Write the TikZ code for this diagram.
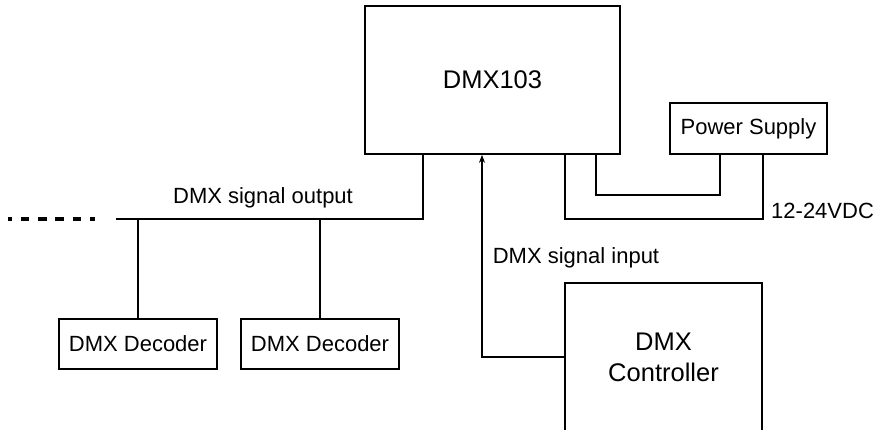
\documentclass[tikz,border=0pt]{standalone}
\usepackage{fontspec}
\setmainfont{Liberation Sans}
\usetikzlibrary{arrows.meta,calc}
\begin{document}
\begin{tikzpicture}[x=1pt,y=-1pt,
  wire/.style={line width=1.7pt,black},
  boxn/.style={draw,line width=1.7pt,inner sep=0pt,align=center},
  big/.style={font=\fontsize{25.5}{32}\selectfont},
  small/.style={font=\fontsize{22}{26}\selectfont},
  lbl/.style={inner sep=0pt,font=\fontsize{22}{26}\selectfont}]
\useasboundingbox (0,0) rectangle (880,429);
\clip (0,0) rectangle (880,429);
% boxes
\node[boxn,big,minimum width=255pt,minimum height=148pt] (dmx) at (492.5,80) {DMX103};
\node[boxn,small,minimum width=157pt,minimum height=51pt] (ps) at (748.5,128.5) {Power Supply};
\node[boxn,big,minimum width=197pt,minimum height=148pt] (ctrl) at (663.5,357) {DMX\\[-1pt]Controller};
\node[boxn,small,minimum width=158pt,minimum height=50pt] (dec1) at (138,344) {DMX Decoder};
\node[boxn,small,minimum width=158pt,minimum height=50pt] (dec2) at (320,344) {DMX Decoder};
% labels
\node[lbl] (lout) at (263,198) {DMX signal output};
\node[lbl] (lin) at (576,258) {DMX signal input};
\node[lbl,anchor=west] (lv) at (771,210.5) {12-24VDC};
% helper coordinates
\coordinate (xo) at (423,0);
\coordinate (bus) at (116,219);
\coordinate (xa) at (596,0);
\coordinate (xb) at (720,0);
\coordinate (xc) at (565,0);
\coordinate (xd) at (763,0);
\coordinate (xin) at (482,0);
\coordinate (d1) at (8,219);
\coordinate (d2) at (95,219);
% output bus
\draw[wire] (dmx.south -| xo) |- (bus);
\draw[wire] (dec1.north) -- (dec1.north |- bus);
\draw[wire] (dec2.north) -- (dec2.north |- bus);
\draw[line width=3.4pt,dash pattern=on 8.5pt off 8.8pt,dash phase=4.5pt] (d1) -- (d2);
% power
\draw[wire] (dmx.south -| xa) -- ++(0,40) -| (ps.south -| xb);
\draw[wire] (dmx.south -| xc) -- ++(0,64) -| (ps.south -| xd);
% input
\draw[wire,-{Stealth[length=8pt,width=6pt]}] (ctrl.west) -| (dmx.south -| xin);
\end{tikzpicture}
\end{document}
